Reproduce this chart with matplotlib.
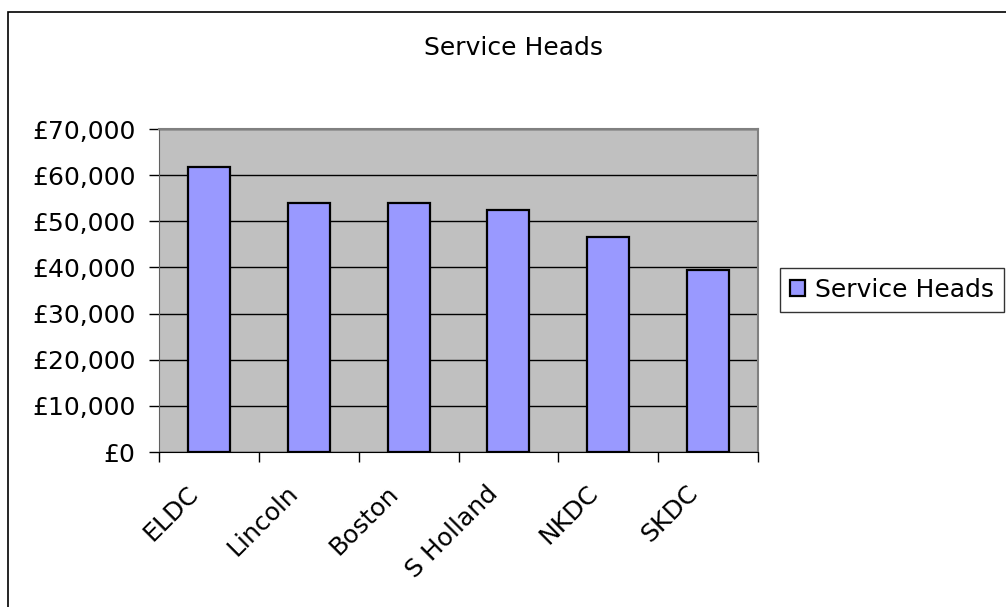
import matplotlib
matplotlib.use("Agg")
import matplotlib.pyplot as plt
import matplotlib.transforms as mtransforms
from matplotlib.patches import Rectangle
from matplotlib.ticker import FuncFormatter

categories = ["ELDC", "Lincoln", "Boston", "S Holland", "NKDC", "SKDC"]
values = [61800, 54000, 54000, 52400, 46600, 39400]
series_name = "Service Heads"
yticks = [0, 10000, 20000, 30000, 40000, 50000, 60000, 70000]

plt.rcParams["font.family"] = ["DejaVu Sans"]
FS = 18

W, H = 1006, 607
fig = plt.figure(figsize=(W / 100, H / 100), dpi=100)
fig.patch.set_facecolor("white")

# outer chart border (runs off the right/bottom edge like the reference)
fig.patches.append(Rectangle((8 / W, -0.05), 1.1, 1 - 12 / H + 0.05,
                             transform=fig.transFigure, fill=False,
                             edgecolor="black", linewidth=1.2))

ax = fig.add_axes([159 / W, 1 - 452 / H, 599 / W, 323 / H])
ax.set_facecolor("#C0C0C0")

x = list(range(len(categories)))
bars = ax.bar(x, values, width=0.42, color="#9999FF", edgecolor="black",
              linewidth=1.6, zorder=3, label=series_name)

ax.set_xlim(-0.5, len(categories) - 0.5)
ax.set_ylim(0, 70000)
ax.set_yticks(yticks)
ax.yaxis.set_major_formatter(FuncFormatter(lambda v, p: f"£{int(v):,}"))
ax.grid(axis="y", color="black", linewidth=1.0, zorder=1)
ax.set_axisbelow(True)

# x ticks at category boundaries, labels at centres
ax.set_xticks([i - 0.5 for i in range(len(categories) + 1)])
ax.set_xticklabels([])
ax.set_xticks(x, minor=True)
ax.set_xticklabels(categories, minor=True, rotation=45, ha="right",
                   va="center", rotation_mode="anchor", fontsize=FS)
ax.tick_params(axis="x", which="minor", length=0, pad=27)
ax.tick_params(axis="x", which="major", length=7, width=1, color="black")
ax.tick_params(axis="y", length=7, width=1, labelsize=FS, pad=10)
offset = mtransforms.ScaledTranslation(-14 / 100, 0, fig.dpi_scale_trans)
for lbl in ax.get_xticklabels(minor=True):
    lbl.set_transform(lbl.get_transform() + offset)

for side in ["top", "right"]:
    ax.spines[side].set_color("#808080")
    ax.spines[side].set_linewidth(1.5)
ax.spines["left"].set_color("#606060")
ax.spines["bottom"].set_color("black")

fig.text(514 / W, 1 - 48 / H, "Service Heads", ha="center", va="center",
         fontsize=FS)

leg = fig.legend(handles=[bars], labels=[series_name], loc="center left",
                 bbox_to_anchor=(780 / W, 1 - 290 / H), fontsize=FS,
                 frameon=True, fancybox=False, edgecolor="black",
                 handlelength=0.6, handleheight=0.6, handletextpad=0.4,
                 borderpad=0.4, borderaxespad=0)
leg.get_frame().set_linewidth(1.0)

fig.savefig("out.png", dpi=100, facecolor="white")
